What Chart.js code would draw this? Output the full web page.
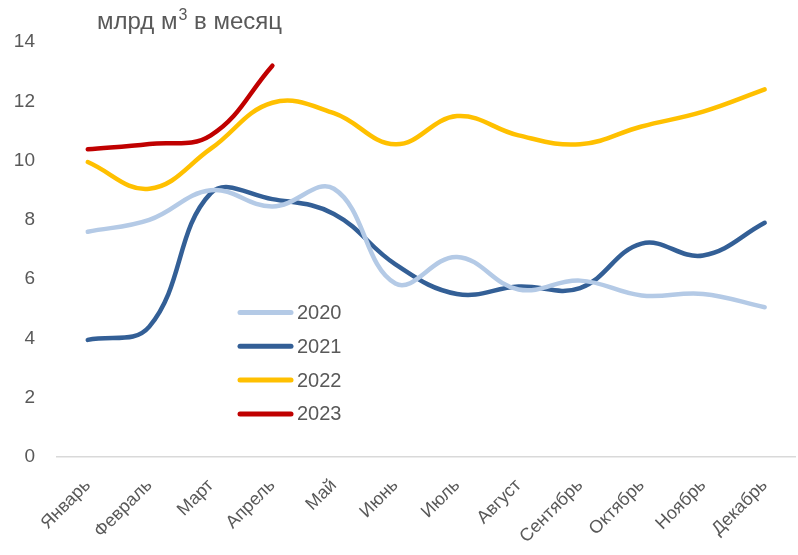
<!DOCTYPE html>
<html>
<head>
<meta charset="utf-8">
<script src="https://cdn.jsdelivr.net/npm/chart.js@4/dist/chart.umd.min.js"></script>
<style>
  html, body { margin: 0; padding: 0; background: #fff; }
  #wrap { width: 798px; height: 555px; }
</style>
</head>
<body>
<div id="wrap"><canvas id="gasChart" width="798" height="555"></canvas></div>
<script>
// Data
const months = ['Январь', 'Февраль', 'Март', 'Апрель', 'Май', 'Июнь', 'Июль', 'Август', 'Сентябрь', 'Октябрь', 'Ноябрь', 'Декабрь'];
const years = ['2020', '2021', '2022', '2023'];
const values2020 = [7.6, 8.0, 9.0, 8.45, 9.05, 5.85, 6.75, 5.65, 5.95, 5.45, 5.5, 5.05];
const values2021 = [3.95, 4.4, 8.9, 8.7, 8.2, 6.5, 5.5, 5.75, 5.7, 7.2, 6.8, 7.9];
const values2022 = [9.95, 9.05, 10.4, 11.95, 11.6, 10.55, 11.5, 10.85, 10.55, 11.15, 11.65, 12.4];
const values2023 = [10.38, 10.56, 10.85, 13.2];
const unitTitle = ['млрд м', '3', ' в месяц'];

const colors = ['#b4cae6', '#335f96', '#ffc000', '#c00000'];
const textColor = '#595959';
const fontFamily = '"Liberation Sans", Arial, sans-serif';

// title + legend drawn inside the plot, like the Excel original
const decorations = {
    id: 'decorations',
    afterDraw(chart) {
        const ctx = chart.ctx;
        ctx.save();
        ctx.fillStyle = textColor;
        ctx.textBaseline = 'alphabetic';
        ctx.textAlign = 'left';
        let x = 97;
        ctx.font = '24px ' + fontFamily;
        ctx.fillText(unitTitle[0], x, 29);
        x += ctx.measureText(unitTitle[0]).width + 1;
        ctx.font = '16px ' + fontFamily;
        ctx.fillText(unitTitle[1], x, 20);
        x += ctx.measureText(unitTitle[1]).width;
        ctx.font = '24px ' + fontFamily;
        ctx.fillText(unitTitle[2], x, 29);

        ctx.font = '20px ' + fontFamily;
        ctx.textBaseline = 'middle';
        chart.data.datasets.forEach((ds, i) => {
            const y = 312.5 + i * 33.8;
            ctx.strokeStyle = ds.borderColor;
            ctx.lineWidth = 5;
            ctx.lineCap = 'round';
            ctx.beginPath();
            ctx.moveTo(240, y);
            ctx.lineTo(291, y);
            ctx.stroke();
            ctx.fillText(ds.label, 297, y + 1);
        });
        ctx.restore();
    }
};

const gasChart = document.getElementById('gasChart').getContext('2d');

new Chart(gasChart, {
    type: 'line',
    data: {
        labels: months,
        datasets: [values2020, values2021, values2022, values2023].map((vals, i) => ({
            label: years[i],
            data: vals,
            borderColor: colors[i],
            backgroundColor: colors[i],
            borderWidth: 4.5,
            borderCapStyle: 'round',
            tension: 0.4,
            pointRadius: 0,
            fill: false
        }))
    },
    plugins: [decorations],
    options: {
        responsive: false,
        animation: false,
        layout: {
            padding: { top: 42, right: 1, left: 0, bottom: 0 }
        },
        plugins: {
            legend: { display: false },
            tooltip: { enabled: false }
        },
        scales: {
            y: {
                min: 0,
                max: 14,
                afterFit(s) { s.width = 57; },
                ticks: {
                    stepSize: 2,
                    padding: 22,
                    color: textColor,
                    font: { family: fontFamily, size: 19 }
                },
                grid: { display: false, drawTicks: false },
                border: { display: false }
            },
            x: {
                offset: true,
                afterFit(s) { s.height = 98; },
                ticks: {
                    minRotation: 45,
                    maxRotation: 45,
                    padding: 18,
                    color: textColor,
                    font: { family: fontFamily, size: 18 }
                },
                grid: { display: false, drawTicks: false },
                border: { display: true, color: '#d9d9d9', width: 1.5 }
            }
        }
    }
});
</script>
</body>
</html>
